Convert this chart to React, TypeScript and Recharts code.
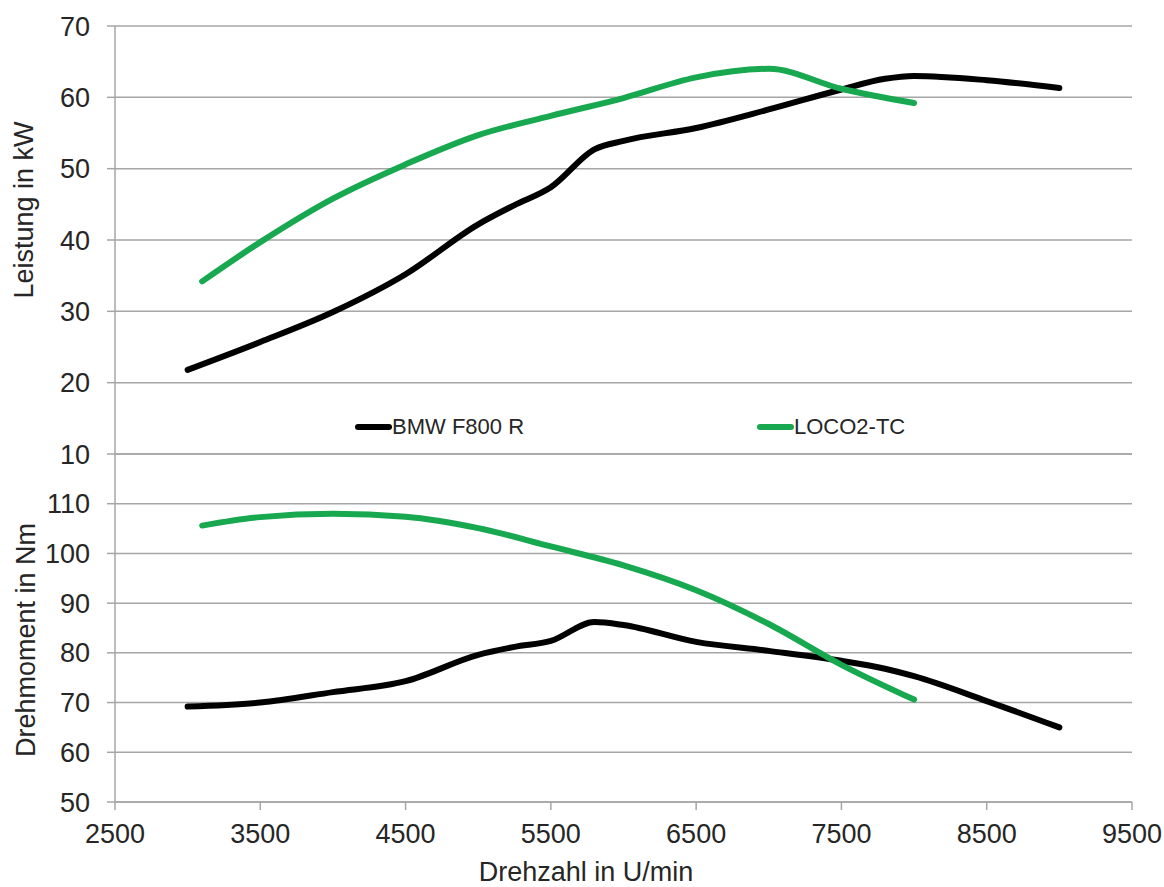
import { LineChart, Line, XAxis, YAxis, CartesianGrid } from 'recharts';

const FONT = '"Liberation Sans", Arial, sans-serif';
const TEXT = '#262626';
const GRID = '#a6a6a6';
const BMW_COLOR = '#000000';
const LOCO_COLOR = '#17a850';

// Drehzahl in U/min (x) for each engine
const bmwRpm = [3000, 3500, 4000, 4500, 5000, 5250, 5500, 5800, 6000, 6500, 7000, 7500, 7800, 8000, 8500, 9000];
const bmwPower = [21.8, 25.7, 29.9, 35.2, 42.2, 44.9, 47.4, 52.7, 53.9, 55.7, 58.3, 61.1, 62.6, 63.0, 62.4, 61.3];
const bmwTorque = [69.2, 70.0, 72.1, 74.3, 79.6, 81.2, 82.4, 86.2, 85.6, 82.2, 80.4, 78.4, 76.8, 75.3, 70.3, 65.0];

const locoRpm = [3100, 3500, 4000, 4500, 5000, 5500, 6000, 6500, 7000, 7500, 8000];
const locoPower = [34.2, 39.7, 45.8, 50.6, 54.7, 57.4, 59.9, 62.8, 64.0, 61.2, 59.2];
const locoTorque = [105.6, 107.3, 108.0, 107.4, 105.1, 101.4, 97.6, 92.6, 85.8, 77.6, 70.6];

const xTicks = [2500, 3500, 4500, 5500, 6500, 7500, 8500, 9500];
const powerTicks = [10, 20, 30, 40, 50, 60, 70];
const torqueTicks = [50, 60, 70, 80, 90, 100, 110];

const series = [
  { name: 'BMW F800 R', color: BMW_COLOR },
  { name: 'LOCO2-TC', color: LOCO_COLOR },
];

const bmwPowerData = bmwRpm.map((rpm, i) => ({ rpm, value: bmwPower[i] }));
const bmwTorqueData = bmwRpm.map((rpm, i) => ({ rpm, value: bmwTorque[i] }));
const locoPowerData = locoRpm.map((rpm, i) => ({ rpm, value: locoPower[i] }));
const locoTorqueData = locoRpm.map((rpm, i) => ({ rpm, value: locoTorque[i] }));

const tickStyle = { fontSize: 27, fill: TEXT, fontFamily: FONT };

// rotated axis title, drawn at a fixed spot in the chart's own svg
function VerticalTitle({ text, x, y }: { text: string; x: number; y: number }) {
  return (
    <text x={x} y={y} transform={`rotate(-90, ${x}, ${y})`} textAnchor="middle" fontSize={27} fill={TEXT} fontFamily={FONT}>
      {text}
    </text>
  );
}

function LegendRow() {
  const xs = [355, 757];
  return (
    <svg width={1164} height={50} style={{ position: 'absolute', left: 0, top: 405, pointerEvents: 'none' }}>
      {series.map((s, i) => (
        <g key={s.name}>
          <line x1={xs[i] + 3} y1={22} x2={xs[i] + 34} y2={22} stroke={s.color} strokeWidth={6} strokeLinecap="round" />
          <text x={xs[i] + 37} y={29} fontSize={22} fill={TEXT} fontFamily={FONT}>
            {s.name}
          </text>
        </g>
      ))}
    </svg>
  );
}

export default function App() {
  return (
    <div style={{ position: 'absolute', left: 0, top: 0, width: 1164, height: 887, background: '#fff', fontFamily: FONT }}>
      <div style={{ position: 'absolute', left: 0, top: 440 }}>
        <LineChart width={1164} height={447} margin={{ top: 14, right: 32, bottom: 0, left: 0 }}>
          <CartesianGrid vertical={false} stroke={GRID} strokeWidth={1.5} />
          <XAxis
            type="number"
            dataKey="rpm"
            domain={[2500, 9500]}
            ticks={xTicks}
            height={85}
            tick={tickStyle}
            tickSize={8}
            tickMargin={14}
            axisLine={{ stroke: GRID, strokeWidth: 1.5 }}
            tickLine={{ stroke: GRID, strokeWidth: 1.5 }}
            allowDuplicatedCategory={false}
            label={{
              content: () => (
                <text x={586} y={441} textAnchor="middle" fontSize={27} fill={TEXT} fontFamily={FONT}>
                  Drehzahl in U/min
                </text>
              ),
            }}
          />
          <YAxis
            domain={[50, 120]}
            ticks={torqueTicks}
            width={115}
            tick={tickStyle}
            tickSize={8}
            tickMargin={17}
            axisLine={{ stroke: GRID, strokeWidth: 1.5 }}
            tickLine={{ stroke: GRID, strokeWidth: 1.5 }}
            label={{ content: () => <VerticalTitle text="Drehmoment in Nm" x={35} y={200} /> }}
          />
          <Line data={bmwTorqueData} dataKey="value" type="monotone" stroke={BMW_COLOR} strokeWidth={6} strokeLinecap="round" dot={false} activeDot={false} isAnimationActive={false} />
          <Line data={locoTorqueData} dataKey="value" type="monotone" stroke={LOCO_COLOR} strokeWidth={6} strokeLinecap="round" dot={false} activeDot={false} isAnimationActive={false} />
        </LineChart>
      </div>
      <div style={{ position: 'absolute', left: 0, top: 0 }}>
        <LineChart width={1164} height={480} margin={{ top: 26, right: 32, bottom: 26, left: 0 }} style={{ pointerEvents: 'none' }}>
          <CartesianGrid vertical={false} stroke={GRID} strokeWidth={1.5} />
          <XAxis type="number" dataKey="rpm" domain={[2500, 9500]} ticks={xTicks} hide allowDuplicatedCategory={false} />
          <YAxis
            domain={[10, 70]}
            ticks={powerTicks}
            width={115}
            tick={tickStyle}
            tickSize={8}
            tickMargin={17}
            axisLine={{ stroke: GRID, strokeWidth: 1.5 }}
            tickLine={{ stroke: GRID, strokeWidth: 1.5 }}
            label={{ content: () => <VerticalTitle text="Leistung in kW" x={33} y={210} /> }}
          />
          <Line data={bmwPowerData} dataKey="value" type="monotone" stroke={BMW_COLOR} strokeWidth={6} strokeLinecap="round" dot={false} activeDot={false} isAnimationActive={false} />
          <Line data={locoPowerData} dataKey="value" type="monotone" stroke={LOCO_COLOR} strokeWidth={6} strokeLinecap="round" dot={false} activeDot={false} isAnimationActive={false} />
        </LineChart>
      </div>
      <LegendRow />
    </div>
  );
}
